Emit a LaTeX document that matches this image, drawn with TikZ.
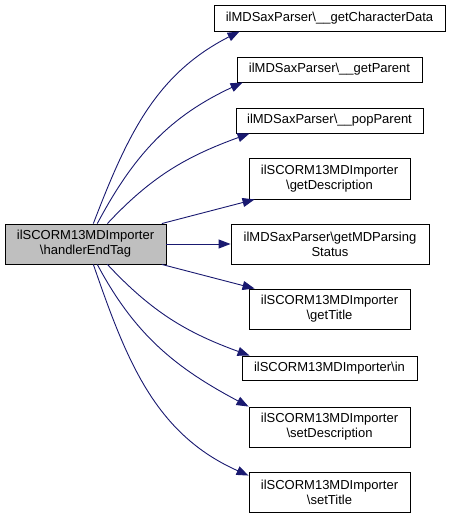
\documentclass[tikz,border=0pt]{standalone}
\usepackage{fontspec}
\setmainfont{Liberation Sans}
\usepackage{xcolor}
\usepackage{tikz}
\usetikzlibrary{arrows.meta}
\definecolor{midnightblue}{HTML}{191970}
\definecolor{callgray}{HTML}{BFBFBF}

\begin{document}
\begin{tikzpicture}[x=1pt,y=1pt,
    fn/.style={draw=black, line width=0.9pt, fill=white, inner sep=0pt, align=center,
      font=\fontsize{13}{15}\selectfont},
    call/.style={draw=midnightblue, line width=0.9pt,
      -{Triangle[length=12pt,width=9pt]}, fill=none}]
    \useasboundingbox (0,0) rectangle (451,-518);
    \node [fn, fill=callgray, minimum width=161, minimum height=40] (main) at (85.5,-244)
      {ilSCORM13MDImporter\\\textbackslash handlerEndTag};
    \node [fn, minimum width=231, minimum height=26] (chardata) at (329.5,-18)
      {ilMDSaxParser\textbackslash\_\_getCharacterData};
    \node [fn, minimum width=185, minimum height=25] (getparent) at (329.5,-69.5)
      {ilMDSaxParser\textbackslash\_\_getParent};
    \node [fn, minimum width=187, minimum height=25] (popparent) at (329.5,-120.5)
      {ilMDSaxParser\textbackslash\_\_popParent};
    \node [fn, minimum width=161, minimum height=41] (getdesc) at (329.5,-178.5)
      {ilSCORM13MDImporter\\\textbackslash getDescription};
    \node [fn, minimum width=198, minimum height=40] (parsing) at (330,-244)
      {ilMDSaxParser\textbackslash getMDParsing\\Status};
    \node [fn, minimum width=161, minimum height=40] (gettitle) at (329.5,-309)
      {ilSCORM13MDImporter\\\textbackslash getTitle};
    \node [fn, minimum width=175, minimum height=24] (in) at (329.5,-368)
      {ilSCORM13MDImporter\textbackslash in};
    \node [fn, minimum width=161, minimum height=40] (setdesc) at (329.5,-427)
      {ilSCORM13MDImporter\\\textbackslash setDescription};
    \node [fn, minimum width=161, minimum height=40] (settitle) at (329.5,-492)
      {ilSCORM13MDImporter\\\textbackslash setTitle};

    \draw [call] (main.69) to[out=69,in=207] ([xshift=26]chardata.south west);
    \draw [call] (main.60) to[out=62,in=205] ([xshift=6]getparent.south west);
    \draw [call] (main.43) to[out=47,in=200] ([xshift=14]popparent.south west);
    \draw [call] (main.15) -- ([xshift=6]getdesc.south west);
    \draw [call] (main.east) -- (parsing.west);
    \draw [call] (main.-15) -- ([xshift=6]gettitle.north west);
    \draw [call] (main.-43) to[out=-47,in=160] ([xshift=8]in.north west);
    \draw [call] (main.-60) to[out=-62,in=152] (setdesc.north west);
    \draw [call] (main.-69) to[out=-71,in=156] ([yshift=-4]settitle.north west);
\end{tikzpicture}
\end{document}
